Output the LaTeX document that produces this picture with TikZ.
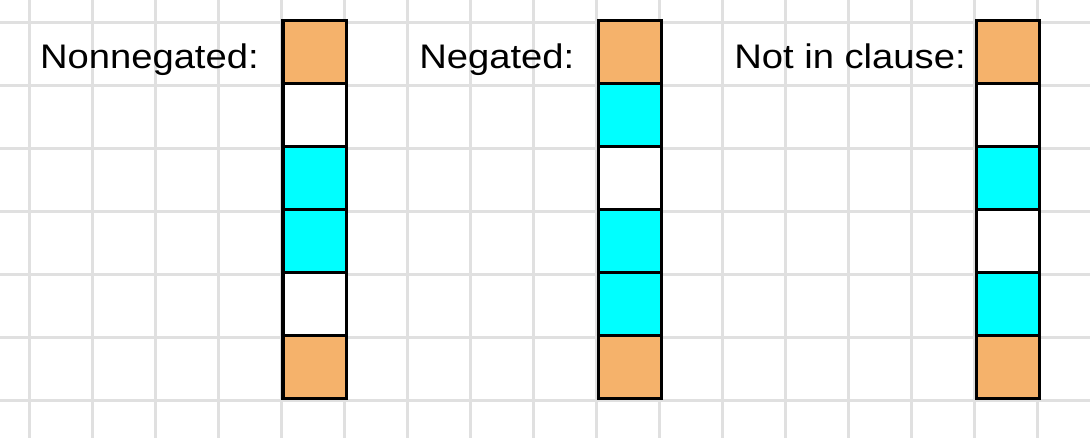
\documentclass[tikz,border=0pt]{standalone}
\usepackage{fontspec}
\setmainfont{Liberation Sans}
\definecolor{gridgray}{RGB}{224,224,224}
\definecolor{boxorange}{RGB}{245,178,107}
\definecolor{boxcyan}{RGB}{0,255,255}
\tikzset{
  cell/.style={draw=black, line width=1.4pt, minimum width=1cm, minimum height=1cm, inner sep=0pt, anchor=south west},
  lbl/.style={anchor=base west, inner sep=0pt, font=\fontsize{15.4pt}{18pt}\selectfont},
}
\begin{document}
\begin{tikzpicture}
\useasboundingbox[fill=white] (-0.468,-0.598) rectangle (16.833,6.354);
\foreach \x in {0,...,16} \draw[gridgray, line width=1.3pt] (\x,-0.598) -- (\x,6.354);
\foreach \y in {0,...,6} \draw[gridgray, line width=1.3pt] (-0.468,\y) -- (16.833,\y);
% column 1
\node[cell, fill=boxorange] (a5) at (4,5) {};
\node[cell, fill=white] (a4) at (4,4) {};
\node[cell, fill=boxcyan] (a3) at (4,3) {};
\node[cell, fill=boxcyan] (a2) at (4,2) {};
\node[cell, fill=white] (a1) at (4,1) {};
\node[cell, fill=boxorange] (a0) at (4,0) {};
% column 2
\node[cell, fill=boxorange] (b5) at (9,5) {};
\node[cell, fill=boxcyan] (b4) at (9,4) {};
\node[cell, fill=white] (b3) at (9,3) {};
\node[cell, fill=boxcyan] (b2) at (9,2) {};
\node[cell, fill=boxcyan] (b1) at (9,1) {};
\node[cell, fill=boxorange] (b0) at (9,0) {};
% column 3
\node[cell, fill=boxorange] (c5) at (15,5) {};
\node[cell, fill=white] (c4) at (15,4) {};
\node[cell, fill=boxcyan] (c3) at (15,3) {};
\node[cell, fill=white] (c2) at (15,2) {};
\node[cell, fill=boxcyan] (c1) at (15,1) {};
\node[cell, fill=boxorange] (c0) at (15,0) {};
% labels
\node[lbl] (l1) at (0.16,5.265) {\scalebox{1.12}[1]{Nonnegated:}};
\node[lbl] (l2) at (6.18,5.265) {\scalebox{1.12}[1]{Negated:}};
\node[lbl] (l3) at (11.18,5.265) {\scalebox{1.12}[1]{Not in clause:}};
\end{tikzpicture}
\end{document}
